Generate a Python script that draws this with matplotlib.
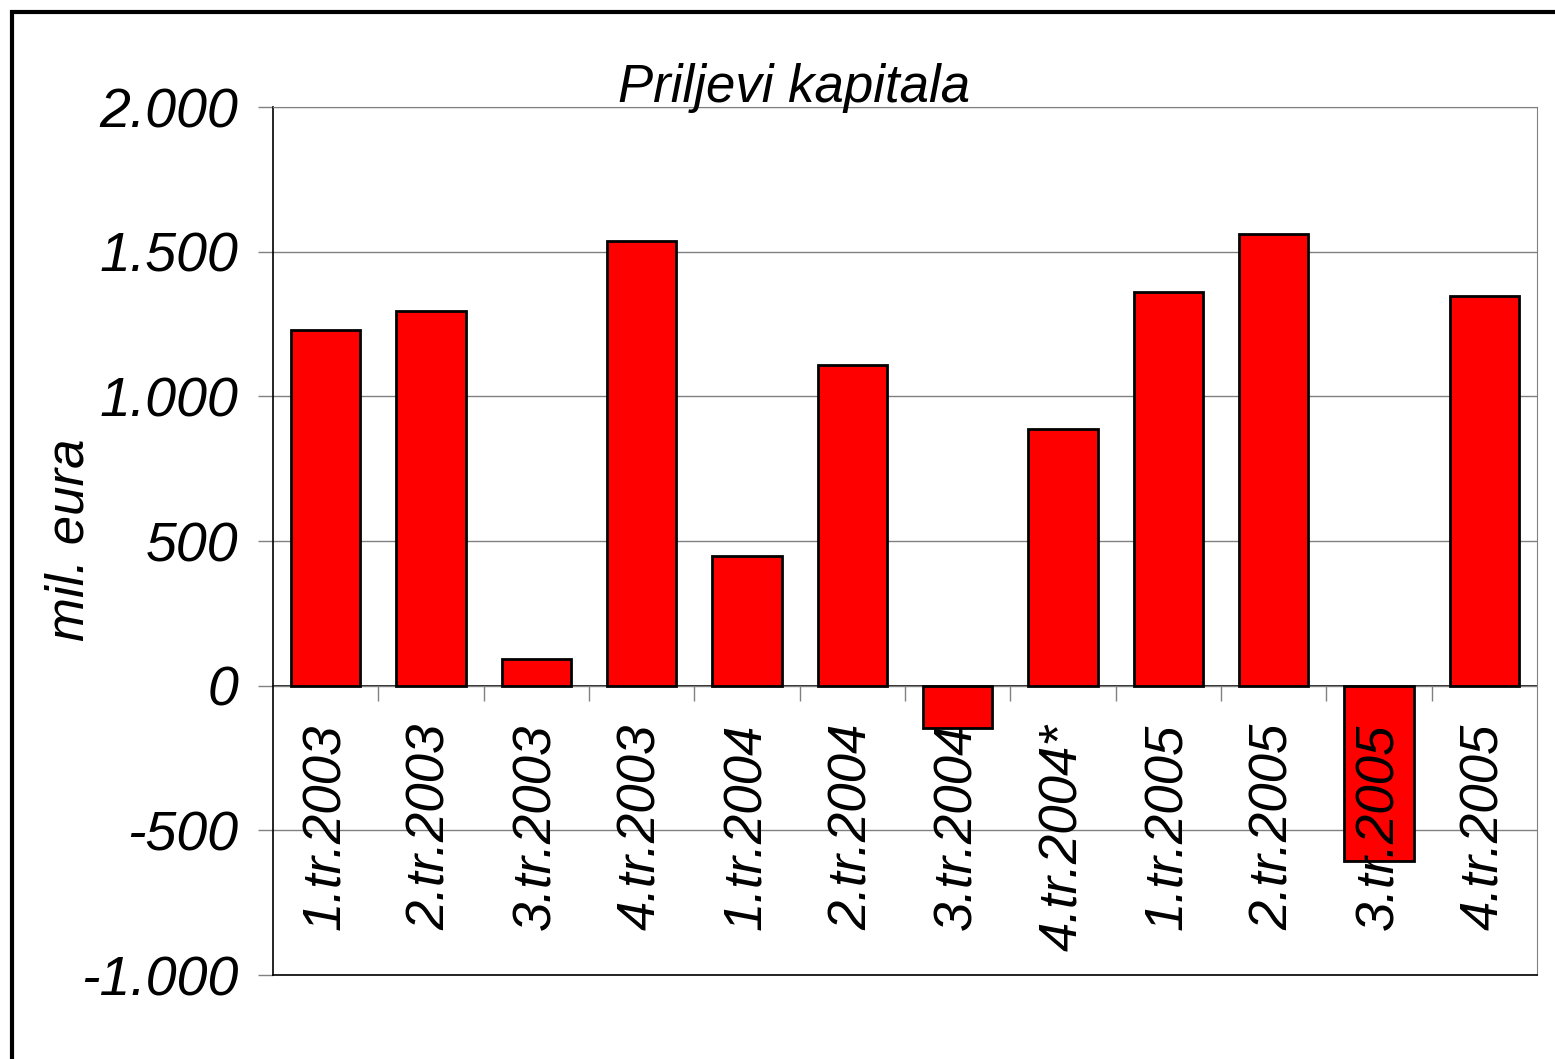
# Priljevi kapitala - kvartalni bar chart
import numpy as np
import matplotlib.pyplot as plt
from matplotlib.patches import Rectangle
from matplotlib.transforms import ScaledTranslation

# data
kvartali = ['1.tr.2003', '2.tr.2003', '3.tr.2003', '4.tr.2003',
            '1.tr.2004', '2.tr.2004', '3.tr.2004', '4.tr.2004*',
            '1.tr.2005', '2.tr.2005', '3.tr.2005', '4.tr.2005']
prilјevi = [1230, 1295, 93, 1538, 448, 1110, -145, 886, 1362, 1562, -607, 1348]
y_ticks = [-1000, -500, 0, 500, 1000, 1500, 2000]
y_labels = ['-1.000', '-500', '0', '500', '1.000', '1.500', '2.000']

plt.rcParams['font.family'] = ['Liberation Sans', 'DejaVu Sans']

fig = plt.figure(figsize=(15.55, 10.59), dpi=100)
ax = fig.add_axes([273/1555, 84/1059, (1537-273)/1555, (975-107)/1059])

x = np.arange(len(kvartali))
ax.bar(x, prilјevi, width=0.66, color='#ff0000', edgecolor='black', linewidth=2, zorder=3)

ax.set_xlim(-0.5, len(kvartali) - 0.5)
ax.set_ylim(-1000, 2000)
ax.set_yticks(y_ticks)
ax.set_yticklabels(y_labels, fontsize=40, style='italic')
ax.tick_params(axis='y', length=11, width=1, color='gray', pad=14)
ax.set_xticks([])
ax.grid(axis='y', color='#808080', linewidth=1, zorder=0)

for s in ['top', 'right']:
    ax.spines[s].set_color('#808080')
ax.spines['left'].set_linewidth(1.2)
ax.spines['bottom'].set_linewidth(1.2)

# nulta linija s crticama izmedju kategorija
sec = ax.secondary_xaxis(0, transform=ax.transData)
sec.set_xticks(x[:-1] + 0.5)
sec.set_xticklabels([])
sec.tick_params(length=11, width=1, color='gray')
sec.spines['bottom'].set_linewidth(1.2)

# oznake kvartala ispod nule
off = ScaledTranslation(0, -0.38, fig.dpi_scale_trans)
for i, lbl in enumerate(kvartali):
    ax.text(x[i], 0, lbl, transform=ax.transData + off, rotation=90,
            ha='center', va='top', fontsize=38, style='italic', zorder=5)

fig.text(794/1555, 1 - 102/1059, 'Priljevi kapitala', ha='center', va='baseline',
         fontsize=38, style='italic')
fig.text(70/1555, 1 - 540/1059, 'mil. eura', ha='center', va='center',
         rotation=90, fontsize=38, style='italic')

# okvir oko slike
fig.add_artist(Rectangle((12/1555, -0.5), 2, 1.5 - 12/1059, transform=fig.transFigure,
                         fill=False, edgecolor='black', linewidth=3))

fig.savefig('out.png', dpi=100)
